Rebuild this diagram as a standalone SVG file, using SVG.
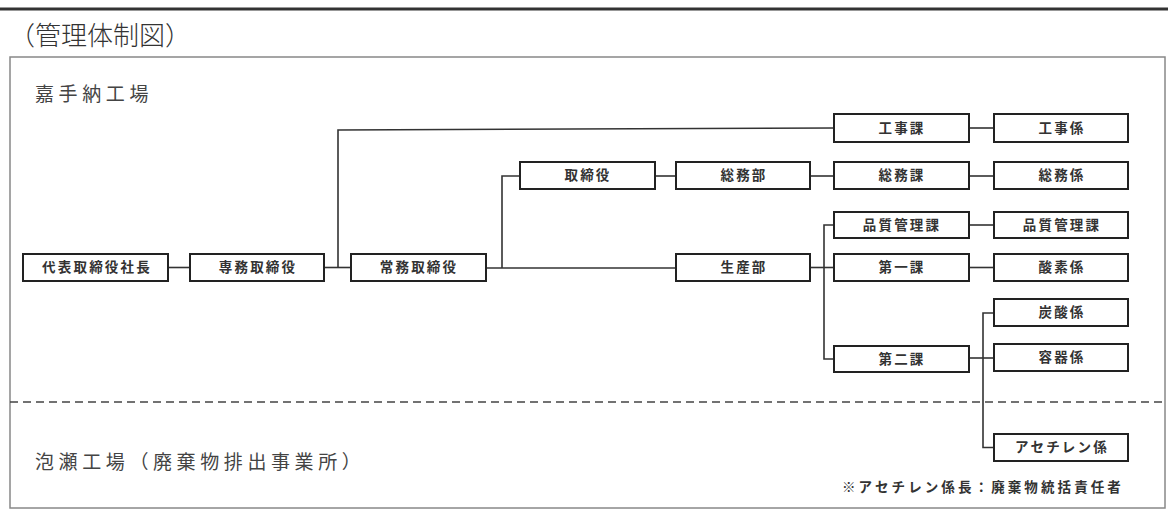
<svg xmlns="http://www.w3.org/2000/svg" width="1168" height="518" viewBox="0 0 1168 518">
<style>
.box{fill:#fff;stroke:#222;stroke-width:2}
.lbl{font-family:"Noto Sans CJK JP","Noto Sans",sans-serif;font-size:13.5px;font-weight:700;fill:#333;text-anchor:middle;letter-spacing:2.2px}
.ln{fill:none;stroke:#333;stroke-width:1.6}
.hdr{font-family:"Noto Sans CJK JP","Noto Sans",sans-serif;font-size:19px;fill:#444;letter-spacing:4.6px}
</style>
<rect width="1168" height="518" fill="#fff"/>
<line x1="0" y1="9" x2="1168" y2="9" stroke="#333" stroke-width="3"/>
<text x="9" y="45" font-family="Noto Sans CJK JP,sans-serif" font-size="26" font-weight="300" fill="#333">（管理体制図）</text>
<rect x="10" y="57" width="1155" height="451" fill="none" stroke="#888" stroke-width="1.5"/>
<line x1="10" y1="402" x2="1165" y2="402" stroke="#444" stroke-width="1.5" stroke-dasharray="8,5"/>
<text class="hdr" x="35" y="101">嘉手納工場</text>
<text class="hdr" x="35" y="469">泡瀬工場（廃棄物排出事業所）</text>
<text x="842" y="492" font-family="Noto Sans CJK JP,sans-serif" font-size="13.5" font-weight="700" fill="#333" letter-spacing="3.1">※アセチレン係長：廃棄物統括責任者</text>
<g id="connectors" class="ln">
<path d="M168 267.5H190"/>
<path d="M324 267.5H351"/>
<path d="M338 267.5V130L834 128"/>
<path d="M486 268H676"/>
<path d="M502 268V176H520"/>
<path d="M655 176H676"/>
<path d="M810 176H834"/>
<path d="M969 128H994"/>
<path d="M969 176H994"/>
<path d="M810 267.5H834"/>
<path d="M834 225H824V359H834"/>
<path d="M969 225H994"/>
<path d="M969 267.5H994"/>
<path d="M969 358H994"/>
<path d="M994 313H983V447.5H994"/>
</g>
<g id="n1"><rect class="box" x="23" y="254" width="145" height="27"/><text class="lbl" x="97" y="272">代表取締役社長</text></g>
<g id="n2"><rect class="box" x="190" y="254" width="134" height="27"/><text class="lbl" x="258" y="272">専務取締役</text></g>
<g id="n3"><rect class="box" x="351" y="254" width="135" height="27"/><text class="lbl" x="419" y="272">常務取締役</text></g>
<g id="n4"><rect class="box" x="520" y="162" width="135" height="27"/><text class="lbl" x="588" y="180">取締役</text></g>
<g id="n5"><rect class="box" x="676" y="162" width="134" height="27"/><text class="lbl" x="744" y="180">総務部</text></g>
<g id="n6"><rect class="box" x="676" y="254" width="134" height="27"/><text class="lbl" x="744" y="272">生産部</text></g>
<g id="n7"><rect class="box" x="834" y="114" width="135" height="28"/><text class="lbl" x="902" y="133">工事課</text></g>
<g id="n8"><rect class="box" x="994" y="114" width="134" height="28"/><text class="lbl" x="1062" y="133">工事係</text></g>
<g id="n9"><rect class="box" x="834" y="162" width="135" height="27"/><text class="lbl" x="902" y="180">総務課</text></g>
<g id="n10"><rect class="box" x="994" y="162" width="134" height="27"/><text class="lbl" x="1062" y="180">総務係</text></g>
<g id="n11"><rect class="box" x="834" y="212" width="135" height="26"/><text class="lbl" x="902" y="230">品質管理課</text></g>
<g id="n12"><rect class="box" x="994" y="212" width="134" height="26"/><text class="lbl" x="1062" y="230">品質管理課</text></g>
<g id="n13"><rect class="box" x="834" y="254" width="135" height="27"/><text class="lbl" x="902" y="272">第一課</text></g>
<g id="n14"><rect class="box" x="994" y="254" width="134" height="27"/><text class="lbl" x="1062" y="272">酸素係</text></g>
<g id="n15"><rect class="box" x="834" y="346" width="135" height="26"/><text class="lbl" x="902" y="364">第二課</text></g>
<g id="n16"><rect class="box" x="994" y="299" width="134" height="27"/><text class="lbl" x="1062" y="317">炭酸係</text></g>
<g id="n17"><rect class="box" x="994" y="344" width="134" height="27"/><text class="lbl" x="1062" y="362">容器係</text></g>
<g id="n18"><rect class="box" x="994" y="434" width="134" height="27"/><text class="lbl" x="1062" y="452">アセチレン係</text></g>
</svg>
